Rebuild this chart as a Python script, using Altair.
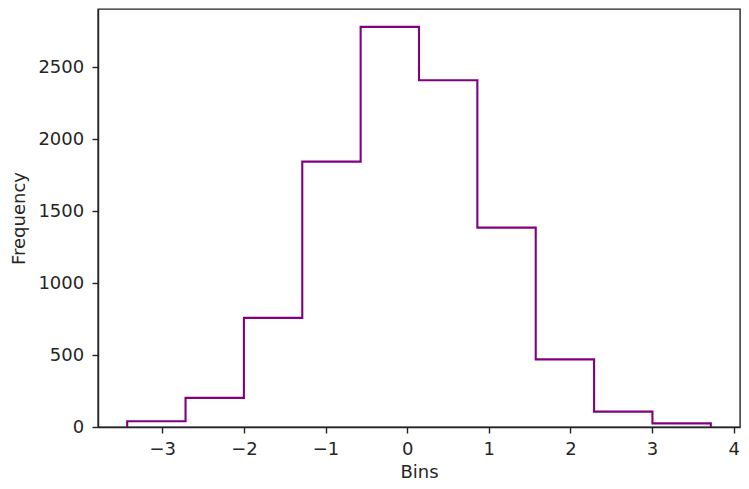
import altair as alt
import pandas as pd

# Histogram
bin_edges = [-3.43, -2.715, -2.0, -1.285, -0.57, 0.145, 0.86, 1.575, 2.29, 3.005, 3.72]
counts = [40, 202, 758, 1843, 2779, 2408, 1385, 470, 107, 25]
x_ticks = [-3, -2, -1, 0, 1, 2, 3, 4]
y_ticks = [0, 500, 1000, 1500, 2000, 2500]
y_top = 2903  # upper end of the y axis

# step outline (matplotlib histtype='step')
rows = [{"x": bin_edges[0], "y": 0, "o": 0}]
k = 1
for i, c in enumerate(counts):
    rows.append({"x": bin_edges[i], "y": c, "o": k}); k += 1
    rows.append({"x": bin_edges[i + 1], "y": c, "o": k}); k += 1
rows.append({"x": bin_edges[-1], "y": 0, "o": k})
df = pd.DataFrame(rows)

span = bin_edges[-1] - bin_edges[0]
xdom = [bin_edges[0] - 0.05 * span, bin_edges[-1] + 0.05 * span]
ydom = [0, y_top]

FONT = "DejaVu Sans"
FS = 18
TXT = "#262626"

common = dict(grid=False, format="d", tickSize=6, tickWidth=1.4, domainWidth=1.4,
              domainColor="#222222", tickColor="#222222", labelColor=TXT, titleColor=TXT,
              labelFont=FONT, titleFont=FONT, labelFontSize=FS, titleFontSize=FS,
              titleFontWeight="normal", labelFlush=False)

chart = alt.Chart(df).mark_line(color="#800080", strokeWidth=2.1, strokeJoin="miter").encode(
    x=alt.X("x:Q", scale=alt.Scale(domain=xdom, nice=False, zero=False),
            axis=alt.Axis(title="Bins", values=x_ticks, labelPadding=7.5, titlePadding=4.5,
                          **common)),
    y=alt.Y("y:Q", scale=alt.Scale(domain=ydom, nice=False),
            axis=alt.Axis(title="Frequency", values=y_ticks, labelPadding=8.3, titlePadding=9,
                          **common)),
    order="o:Q",
).properties(
    width=642, height=418,
    autosize=alt.AutoSizeParams(type="none"),
    padding={"left": 90, "top": 1, "right": 1, "bottom": 54},
).configure_view(stroke="#222222", strokeWidth=1.4)

chart.save("out.html", embed_options={"renderer": "svg", "actions": False})
